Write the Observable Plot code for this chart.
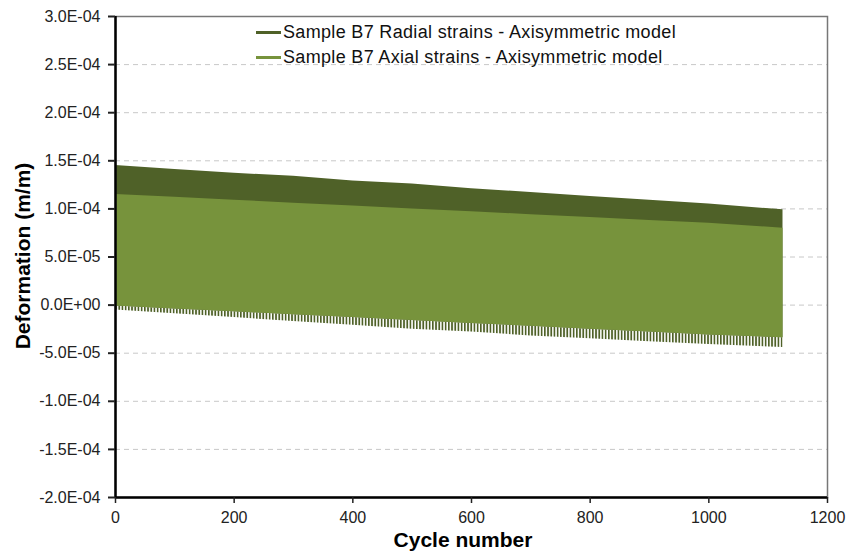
<!DOCTYPE html>
<html>
<head>
<meta charset="utf-8">
<script src="https://cdn.jsdelivr.net/npm/d3@7"></script>
<script src="https://cdn.jsdelivr.net/npm/@observablehq/plot@0.6"></script>
<style>
  html, body { margin: 0; padding: 0; background: #fff; }
  #wrap { position: relative; width: 849px; height: 553px; font-family: Arial, "Liberation Sans", sans-serif; }
  .legend { position: absolute; left: 256px; font-size: 18px; letter-spacing: 0.33px; color: #111; white-space: nowrap; display: flex; align-items: center; }
  .legend .sw { display: inline-block; width: 25px; height: 3px; margin-right: 2px; }
  .ytitle { position: absolute; left: 23px; top: 256px; transform: translate(-50%, -50%) rotate(-90deg); font-weight: bold; font-size: 21px; white-space: nowrap; color: #000; }
  .xtitle { position: absolute; left: 463px; top: 540px; transform: translate(-50%, -50%); font-weight: bold; font-size: 21px; white-space: nowrap; color: #000; }
</style>
</head>
<body>
<svg width="0" height="0" style="position:absolute">
  <defs>
    <pattern id="radTeeth" patternUnits="userSpaceOnUse" width="3.2" height="10">
      <rect x="0" y="0" width="1.7" height="10" fill="#4F6128"></rect>
    </pattern>
  </defs>
</svg>
<div id="wrap"></div>
<script>
// Data (envelopes of the cyclic strain signals)
const cycles     = [0, 100, 200, 300, 400, 500, 600, 700, 800, 900, 1000, 1125];
const radialHigh = [1.45e-4, 1.41e-4, 1.37e-4, 1.34e-4, 1.29e-4, 1.26e-4, 1.21e-4, 1.17e-4, 1.13e-4, 1.09e-4, 1.05e-4, 0.99e-4];
const radialLow  = [-0.5e-5, -0.9e-5, -1.3e-5, -1.7e-5, -2.1e-5, -2.5e-5, -2.8e-5, -3.2e-5, -3.5e-5, -3.8e-5, -4.1e-5, -4.4e-5];
const axialHigh  = [1.15e-4, 1.12e-4, 1.09e-4, 1.06e-4, 1.03e-4, 1.00e-4, 0.97e-4, 0.94e-4, 0.91e-4, 0.88e-4, 0.85e-4, 0.80e-4];
const axialLow   = [-0.1e-5, -0.4e-5, -0.7e-5, -1.0e-5, -1.3e-5, -1.6e-5, -1.9e-5, -2.2e-5, -2.5e-5, -2.8e-5, -3.1e-5, -3.4e-5];

const seriesNames = ["Sample B7 Radial strains - Axisymmetric model", "Sample B7 Axial strains - Axisymmetric model"];
const seriesColors = ["#4F6128", "#77933C"];

const xTicks = [0, 200, 400, 600, 800, 1000, 1200];
const yTicks = [-2e-4, -1.5e-4, -1e-4, -5e-5, 0, 5e-5, 1e-4, 1.5e-4, 2e-4, 2.5e-4, 3e-4];
const gridTicks = [-1.5e-4, -1e-4, -5e-5, 0, 5e-5, 1e-4, 1.5e-4, 2e-4, 2.5e-4];

const rows = cycles.map((c, i) => ({
  cycle: c, rHi: radialHigh[i], rLo: radialLow[i], aHi: axialHigh[i], aLo: axialLow[i]
}));

function fmtE(v) {
  if (Math.abs(v) < 1e-12) return "0.0E+00";
  const s = v.toExponential(1);
  const [m, e] = s.split("e");
  const sign = e[0] === "-" ? "-" : "+";
  const digits = e.replace(/[+-]/, "").padStart(2, "0");
  return m + "E" + sign + digits;
}

const chart = Plot.plot({
  width: 849,
  height: 553,
  marginLeft: 115,
  marginRight: 22,
  marginTop: 16,
  marginBottom: 56,
  style: { fontFamily: "Arial, 'Liberation Sans', sans-serif", background: "#fff", color: "#111" },
  x: { domain: [0, 1200] },
  y: { domain: [-2e-4, 3e-4] },
  marks: [
    Plot.ruleY(gridTicks, { stroke: "#c8c8c8", strokeWidth: 1, strokeDasharray: "5,4" }),
    Plot.areaY(rows, { x: "cycle", y1: "rLo", y2: "aLo", fill: "url(#radTeeth)" }),
    Plot.areaY(rows, { x: "cycle", y1: "aLo", y2: "rHi", fill: seriesColors[0] }),
    Plot.areaY(rows, { x: "cycle", y1: "aLo", y2: "aHi", fill: seriesColors[1] }),
    Plot.frame({ stroke: "#777", strokeWidth: 1.5 }),
    Plot.ruleX([0], { stroke: "#000", strokeWidth: 2.5 }),
    Plot.ruleY([-2e-4], { stroke: "#000", strokeWidth: 2.5 }),
    Plot.axisY(yTicks, { tickFormat: fmtE, tickSize: 7, tickPadding: 8, fontSize: 16, strokeWidth: 2, label: null, color: "#222" }),
    Plot.axisX(xTicks, { tickFormat: d => String(d), tickSize: 6, tickPadding: 8, fontSize: 16, strokeWidth: 1.5, label: null, color: "#222" })
  ]
});

const wrap = document.getElementById("wrap");
wrap.appendChild(chart);

// Legend (inside the plot area, top)
const legendTops = [22, 47];
seriesNames.forEach((name, i) => {
  const d = document.createElement("div");
  d.className = "legend";
  d.style.top = legendTops[i] + "px";
  const sw = document.createElement("span");
  sw.className = "sw";
  sw.style.background = seriesColors[i];
  d.appendChild(sw);
  const t = document.createElement("span");
  t.textContent = name;
  d.appendChild(t);
  wrap.appendChild(d);
});

const yt = document.createElement("div");
yt.className = "ytitle";
yt.textContent = "Deformation (m/m)";
wrap.appendChild(yt);

const xt = document.createElement("div");
xt.className = "xtitle";
xt.textContent = "Cycle number";
wrap.appendChild(xt);
</script>
</body>
</html>
